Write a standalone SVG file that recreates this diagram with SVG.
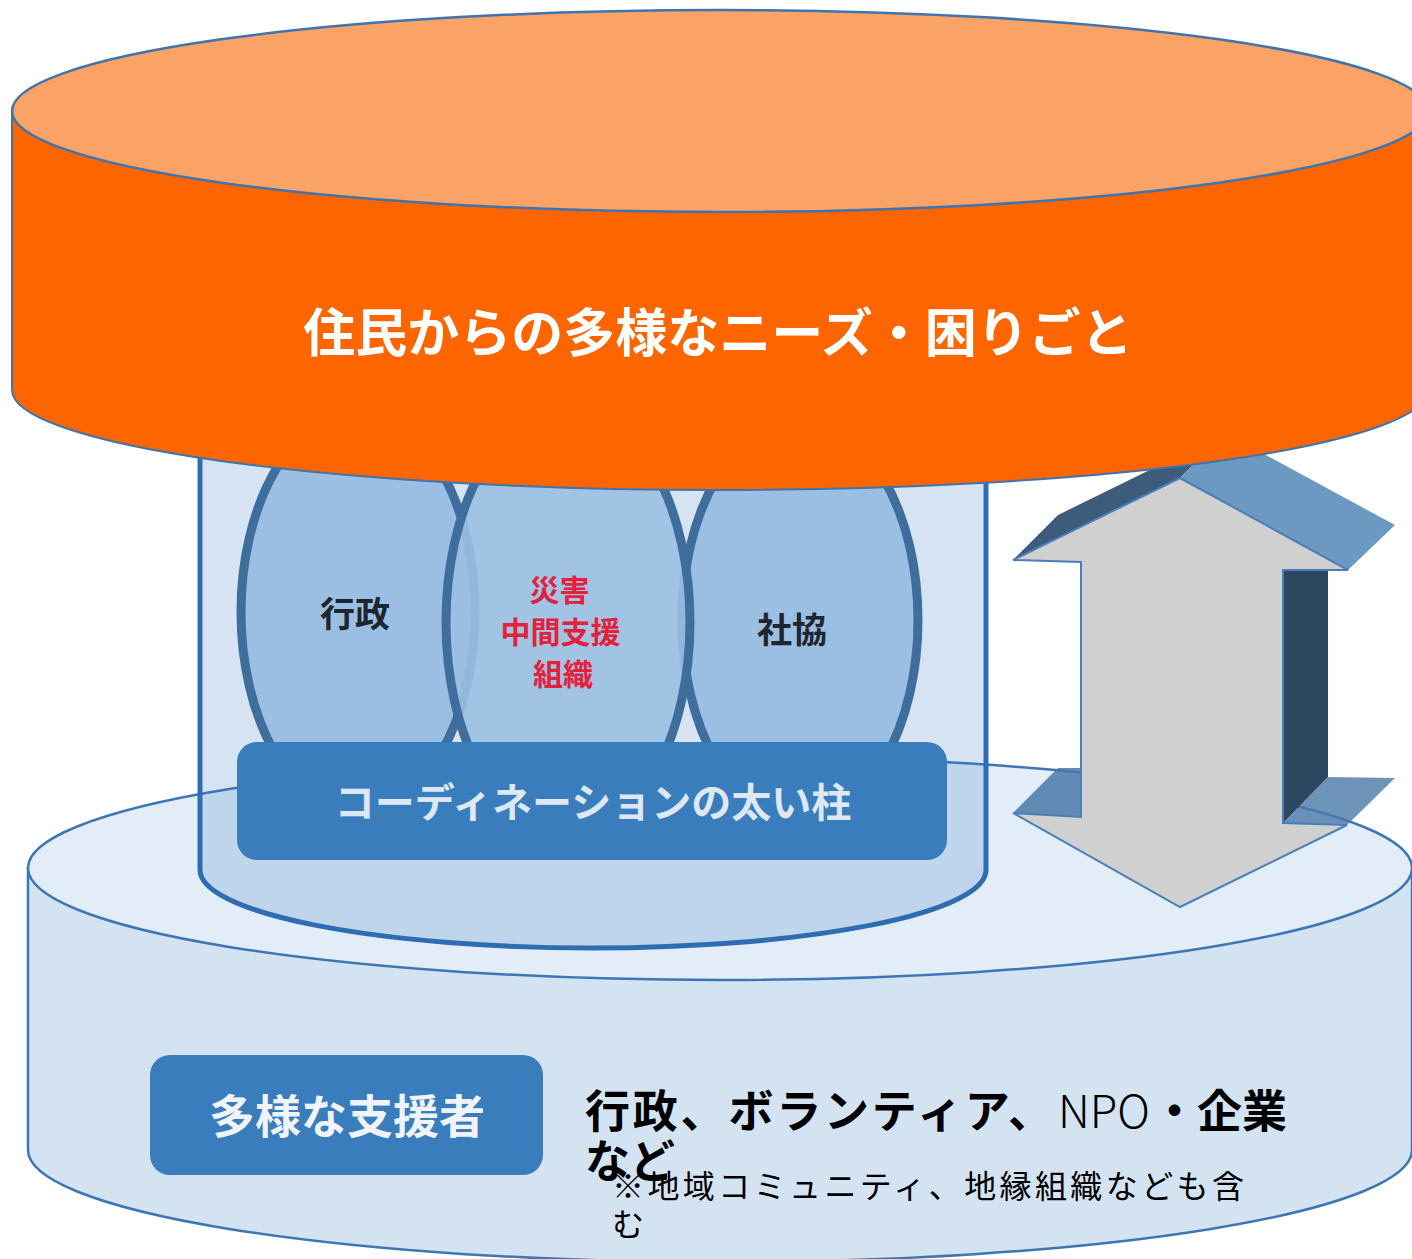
<svg xmlns="http://www.w3.org/2000/svg" width="1412" height="1259" viewBox="0 0 1412 1259">
<style>
.jp{font-family:"Noto Sans CJK JP","Noto Sans",sans-serif;text-anchor:middle}
.edge{stroke:#3c77b4;stroke-width:2.5}
.lens{fill:#9bbfe2;stroke:#3f6e9d;stroke-width:9}
.box{fill:#3a7dbd}
</style>
<rect width="1412" height="1259" fill="#ffffff"/>
<g id="base-cylinder">
  <path class="edge" d="M28,868 L28,1150 A692,112 0 0 0 1412,1150 L1412,868 Z" fill="#d4e3f2"/>
  <ellipse class="edge" cx="720" cy="868" rx="692" ry="112" fill="#e3edf7"/>
</g>
<g id="pillar">
  <path d="M200,430 L200,870 A393,78 0 0 0 986,870 L986,430 Z" fill="#3779c1" fill-opacity="0.21" stroke="#2f6db2" stroke-width="5"/>
</g>
<g id="gyosei">
  <ellipse class="lens" cx="358" cy="612" rx="117" ry="200"/>
  <text class="jp" x="355" y="627" font-size="35" font-weight="bold" fill="#1e2630">行政</text>
</g>
<g id="shakyo">
  <ellipse class="lens" cx="800" cy="620" rx="118" ry="200"/>
  <text class="jp" x="792" y="643" font-size="35" font-weight="bold" fill="#1e2630">社協</text>
</g>
<g id="chukan">
  <ellipse class="lens" cx="568" cy="622" rx="122" ry="215" fill-opacity="0.9" stroke="#315d8a"/>
  <text class="jp" font-size="30" font-weight="bold" fill="#e3213b">
    <tspan x="563" y="601">災害</tspan>
    <tspan x="564" y="643">中間支援</tspan>
    <tspan x="563" y="685">組織</tspan>
  </text>
</g>
<g id="coordination">
  <rect class="box" x="237" y="742" width="710" height="118" rx="20"/>
  <text class="jp" x="593" y="817" font-size="40" font-weight="bold" fill="#dde8f4">コーディネーションの太い柱</text>
</g>
<g id="connectors">
  <polygon points="1013,813 1058,768 1081,768 1081,817" fill="#4a78a8" fill-opacity="0.85"/>
  <polygon points="1283,823 1328,777 1395,778 1347,825" fill="#4a78a8" fill-opacity="0.8"/>
  <polygon points="1283,570 1328,570 1328,777 1283,823" fill="#2d4760"/>
  <polygon points="1013,560 1058,515 1225,433 1180,478" fill="#3d5b7a"/>
  <polygon points="1180,478 1225,433 1395,525 1348,570" fill="#6b99c2"/>
  <polygon points="1180,478 1348,570 1283,570 1283,823 1347,825 1180,907 1013,813 1081,817 1081,562 1013,560" fill="#d0d0d0" stroke="#4a7fb8" stroke-width="2"/>
</g>
<g id="needs">
  <path d="M12,111 L12,390 A708,100 0 0 0 1428,390 L1428,111 Z" fill="#fc6500" stroke="#3f74ad" stroke-width="2"/>
  <ellipse cx="720" cy="111" rx="708" ry="101" fill="#fba366" stroke="#3f74ad" stroke-width="2.5"/>
  <text class="jp" x="718" y="352" font-size="52" font-weight="bold" fill="#ffffff">住民からの多様なニーズ・困りごと</text>
</g>
<g id="supporters">
  <rect class="box" x="150" y="1055" width="393" height="120" rx="20"/>
  <text class="jp" x="347" y="1133" font-size="46" font-weight="bold" fill="#f0f4fa">多様な支援者</text>
</g>
<g id="supporters-list">
  <text font-family="'Noto Sans CJK JP','Noto Sans',sans-serif" font-size="45" fill="#000000">
    <tspan x="585" y="1128" font-weight="bold" textLength="468" lengthAdjust="spacing">行政、ボランティア、</tspan><tspan x="1058" y="1128" font-weight="300">NPO</tspan><tspan x="1152" y="1128" font-weight="bold">・企業</tspan>
    <tspan x="585" y="1178" font-weight="bold">など</tspan>
  </text>
  <text font-family="'Noto Sans CJK JP','Noto Sans',sans-serif" font-size="32" fill="#000000">
    <tspan x="612" y="1198" textLength="632" lengthAdjust="spacing">※地域コミュニティ、地縁組織なども含</tspan>
    <tspan x="612" y="1236">む</tspan>
  </text>
</g>
</svg>
